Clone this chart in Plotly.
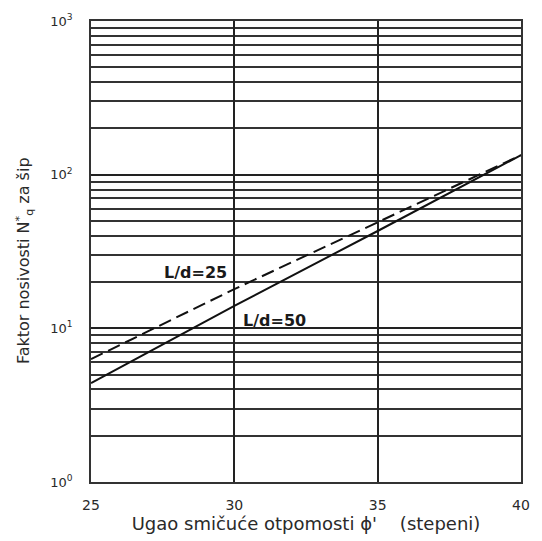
import plotly.graph_objects as go
import math

# Data
phi = [25, 30, 35, 40]
nq_ld50 = [4.4, 14.0, 43.0, 134.0]
nq_ld25 = [6.3, 18.0, 49.0, 134.0]

x_ticks = [25, 30, 35, 40]
y_ticks = [1, 10, 100, 1000]
y_ticktext = ["10<sup>0</sup>", "10<sup>1</sup>", "10<sup>2</sup>", "10<sup>3</sup>"]

label_25 = ("L/d=25", 28.65, 23.2)
label_50 = ("L/d=50", 31.40, 11.2)

FONT = "DejaVu Sans"
TXT = "#2a2a2a"

fig = go.Figure()
fig.add_trace(go.Scatter(x=phi, y=nq_ld25, mode="lines",
                         line=dict(color="#111111", width=2, dash="13px,6px"),
                         showlegend=False))
fig.add_trace(go.Scatter(x=phi, y=nq_ld50, mode="lines",
                         line=dict(color="#111111", width=2),
                         showlegend=False))

for txt, xx, yy in (label_25, label_50):
    fig.add_annotation(x=xx, y=math.log10(yy), text="<b>" + txt + "</b>",
                       showarrow=False, xref="x", yref="y",
                       font=dict(family="DejaVu Sans", size=16, color="#1a1a1a"))

fig.update_xaxes(range=[25, 40], tickvals=x_ticks, ticktext=[str(v) for v in x_ticks],
                 showgrid=True, gridcolor="#222222", gridwidth=1.5,
                 showline=True, linecolor="#333333", linewidth=1.5, mirror=True,
                 ticks="", ticklabelstandoff=9, zeroline=False,
                 tickfont=dict(family=FONT, size=14, color=TXT),
                 title=dict(text="Ugao smičuće otpomosti ϕ'&nbsp;&nbsp;&nbsp;&nbsp;(stepeni)",
                            font=dict(family=FONT, size=18, color=TXT), standoff=4))
fig.update_yaxes(type="log", range=[0, 3], tickvals=y_ticks, ticktext=y_ticktext,
                 showgrid=True, gridcolor="#222222", gridwidth=1.5,
                 minor=dict(dtick="D1", showgrid=True, gridcolor="#333333", gridwidth=1.5, ticks=""),
                 showline=True, linecolor="#333333", linewidth=1.5, mirror=True,
                 ticks="", ticklabelstandoff=14, zeroline=False,
                 tickfont=dict(family=FONT, size=13, color=TXT))

fig.add_annotation(text="Faktor nosivosti N<sup>*</sup><sub>q</sub> za šip",
                   textangle=-90, showarrow=False,
                   xref="paper", yref="paper", x=-0.155, y=0.48, xanchor="center", yanchor="middle",
                   font=dict(family=FONT, size=16, color=TXT))

fig.update_layout(width=542, height=541, paper_bgcolor="white", plot_bgcolor="white",
                  margin=dict(l=91, r=20, t=14, b=59), showlegend=False)

fig.write_html("out.html")
